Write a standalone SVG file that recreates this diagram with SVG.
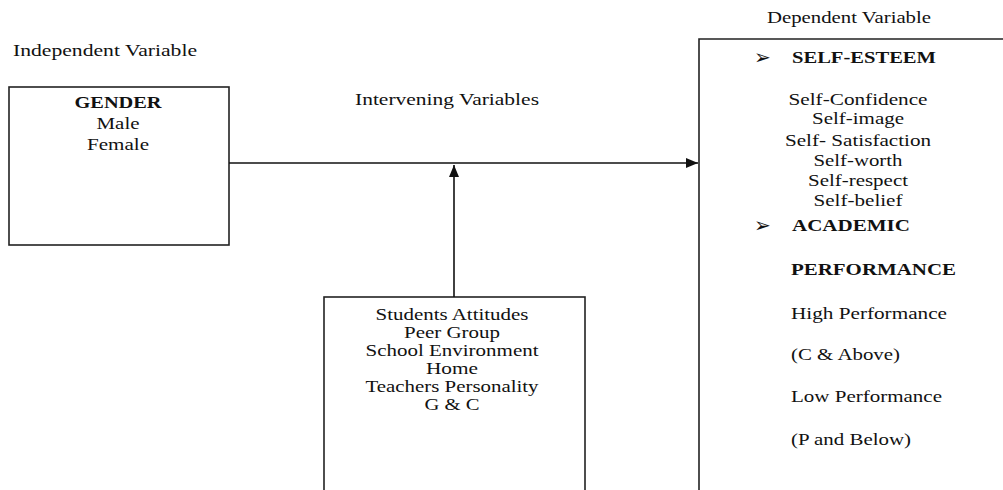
<svg xmlns="http://www.w3.org/2000/svg" width="1003" height="490" viewBox="0 0 1003 490">
<defs>
<style>
text{font-family:"Liberation Serif","Times New Roman",serif;font-size:17px;fill:#111}
.b{font-weight:bold}
.c{text-anchor:middle}
.bul{font-family:"DejaVu Sans",sans-serif;font-size:20px}
.box{fill:#fff;stroke:#222;stroke-width:1.6}
.edge{fill:none;stroke:#111;stroke-width:1.6}
</style>
<marker id="ah" markerWidth="12" markerHeight="10" refX="12" refY="5" orient="auto" markerUnits="userSpaceOnUse">
<path d="M0,0 L12,5 L0,10 Z" fill="#111"/>
</marker>
</defs>
<rect width="1003" height="490" fill="#fff"/>
<text x="13" y="56" textLength="184" lengthAdjust="spacingAndGlyphs">Independent Variable</text>
<text x="355" y="105" textLength="184" lengthAdjust="spacingAndGlyphs">Intervening Variables</text>
<text x="767" y="23" textLength="164" lengthAdjust="spacingAndGlyphs">Dependent Variable</text>
<g id="gender">
<rect class="box" x="9" y="87" width="220" height="158"/>
<text class="c b" x="118" y="108" textLength="87" lengthAdjust="spacingAndGlyphs">GENDER</text>
<text class="c" x="118" y="129" textLength="43" lengthAdjust="spacingAndGlyphs">Male</text>
<text class="c" x="118" y="150" textLength="62" lengthAdjust="spacingAndGlyphs">Female</text>
</g>
<g id="intervening">
<rect class="box" x="324" y="297" width="261" height="220"/>
<text class="c" x="452" y="320" textLength="153" lengthAdjust="spacingAndGlyphs">Students Attitudes</text>
<text class="c" x="452" y="338" textLength="96" lengthAdjust="spacingAndGlyphs">Peer Group</text>
<text class="c" x="452" y="356" textLength="173" lengthAdjust="spacingAndGlyphs">School Environment</text>
<text class="c" x="452" y="374" textLength="52" lengthAdjust="spacingAndGlyphs">Home</text>
<text class="c" x="452" y="392" textLength="173" lengthAdjust="spacingAndGlyphs">Teachers Personality</text>
<text class="c" x="452" y="410" textLength="55" lengthAdjust="spacingAndGlyphs">G &amp; C</text>
</g>
<g id="dependent">
<path class="box" d="M1010,39 H699 V500"/>
<text class="bul" x="754" y="64">➢</text>
<text class="b" x="792" y="63" textLength="144" lengthAdjust="spacingAndGlyphs">SELF-ESTEEM</text>
<text class="c" x="858" y="105" textLength="139" lengthAdjust="spacingAndGlyphs">Self-Confidence</text>
<text class="c" x="858" y="124" textLength="92" lengthAdjust="spacingAndGlyphs">Self-image</text>
<text class="c" x="858" y="146" textLength="146" lengthAdjust="spacingAndGlyphs">Self- Satisfaction</text>
<text class="c" x="858" y="166" textLength="89" lengthAdjust="spacingAndGlyphs">Self-worth</text>
<text class="c" x="858" y="186" textLength="100" lengthAdjust="spacingAndGlyphs">Self-respect</text>
<text class="c" x="858" y="206" textLength="89" lengthAdjust="spacingAndGlyphs">Self-belief</text>
<text class="bul" x="754" y="232">➢</text>
<text class="b" x="792" y="231" textLength="118" lengthAdjust="spacingAndGlyphs">ACADEMIC</text>
<text class="b" x="791" y="275" textLength="165" lengthAdjust="spacingAndGlyphs">PERFORMANCE</text>
<text x="791" y="319" textLength="156" lengthAdjust="spacingAndGlyphs">High Performance</text>
<text x="791" y="360" textLength="109" lengthAdjust="spacingAndGlyphs">(C &amp; Above)</text>
<text x="791" y="402" textLength="151" lengthAdjust="spacingAndGlyphs">Low Performance</text>
<text x="791" y="445" textLength="120" lengthAdjust="spacingAndGlyphs">(P and Below)</text>
</g>
<g id="connectors">
<line class="edge" x1="229" y1="163" x2="698" y2="163" marker-end="url(#ah)"/>
<line class="edge" x1="454" y1="297" x2="454" y2="165" marker-end="url(#ah)"/>
</g>
</svg>
